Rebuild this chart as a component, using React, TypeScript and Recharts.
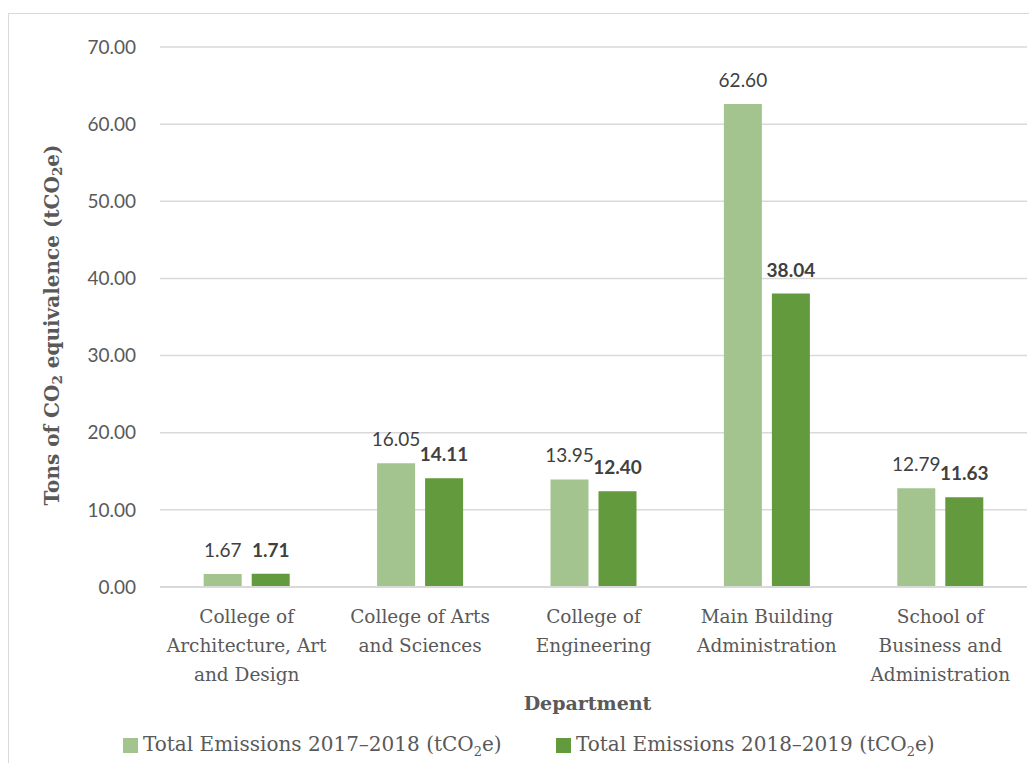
import React from "react";
import { BarChart, Bar, XAxis, YAxis, CartesianGrid, LabelList, Legend } from "recharts";

const departments = [
  "College of\nArchitecture, Art\nand Design",
  "College of Arts\nand Sciences",
  "College of\nEngineering",
  "Main Building\nAdministration",
  "School of\nBusiness and\nAdministration",
];
const emissions2017_2018 = [1.67, 16.05, 13.95, 62.6, 12.79];
const emissions2018_2019 = [1.71, 14.11, 12.4, 38.04, 11.63];
const yTicks = [0, 10, 20, 30, 40, 50, 60, 70];

const data = departments.map((d, i) => ({
  name: d,
  a: emissions2017_2018[i],
  b: emissions2018_2019[i],
}));

const SERIF = "'DejaVu Serif', serif";
const SANS = "Lato, 'Open Sans', sans-serif";
const LIGHT = "#A3C48F";
const DARK = "#629A3D";
const TEXT = "#595959";

const XTick = (props: any) => {
  const { x, y, payload } = props;
  const lines = String(payload.value).split("\n");
  return (
    <text x={x} y={y} textAnchor="middle" fontFamily={SERIF} fontSize={18.5} fill={TEXT}>
      {lines.map((l, i) => (
        <tspan key={i} x={x} dy={i === 0 ? 28 : 29}>
          {l}
        </tspan>
      ))}
    </text>
  );
};

const YLabel = (props: any) => {
  const vb = props.viewBox || { x: 0, y: 47, width: 0, height: 540 };
  const cx = 52;
  const cy = vb.y + vb.height / 2 + 8;
  return (
    <text
      x={cx}
      y={cy}
      transform={`rotate(-90, ${cx}, ${cy})`}
      textAnchor="middle"
      dominantBaseline="central"
      fontFamily={SERIF}
      fontWeight="bold"
      fontSize={20}
      fill={TEXT}
    >
      Tons of CO<tspan dy={5} fontSize={13.5}>2</tspan>
      <tspan dy={-5}> equivalence (tCO</tspan>
      <tspan dy={5} fontSize={13.5}>2</tspan>
      <tspan dy={-5}>e)</tspan>
    </text>
  );
};

const XLabel = (props: any) => {
  const vb = props.viewBox || { x: 160, y: 587, width: 867 };
  return (
    <text
      x={vb.x + vb.width / 2 - 6}
      y={710}
      textAnchor="middle"
      fontFamily={SERIF}
      fontWeight="bold"
      fontSize={19}
      fill={TEXT}
    >
      Department
    </text>
  );
};

const makeValueLabel = (bold: boolean) => (p: any) => {
  const { x, y, width, value } = p;
  return (
    <text
      x={Number(x) + Number(width) / 2}
      y={Number(y) - 17}
      textAnchor="middle"
      fontFamily={SANS}
      fontWeight={bold ? "bold" : "normal"}
      fontSize={19}
      fill="#404040"
    >
      {Number(value).toFixed(2)}
    </text>
  );
};

const legendItems = [
  { label: "Total Emissions 2017–2018 (tCO", color: LIGHT, left: 123 },
  { label: "Total Emissions 2018–2019 (tCO", color: DARK, left: 556 },
];

const LegendContent = () => (
  <div style={{ position: "relative", width: 1029, height: 36 }}>
    {legendItems.map((it, i) => (
      <div
        key={i}
        style={{
          position: "absolute",
          left: it.left,
          top: 0,
          height: 36,
          display: "flex",
          alignItems: "center",
          fontFamily: SERIF,
          fontSize: 20,
          color: TEXT,
          whiteSpace: "nowrap",
        }}
      >
        <span style={{ display: "inline-block", width: 15, height: 15, background: it.color, marginRight: 5 }} />
        <span>
          {it.label}
          <sub style={{ fontSize: 13 }}>2</sub>e)
        </span>
      </div>
    ))}
  </div>
);

export default function App() {
  return (
    <div style={{ position: "absolute", left: 0, top: 0, width: 1029, height: 763, background: "#fff", overflow: "hidden" }}>
      <div
        style={{
          position: "absolute",
          left: 8,
          top: 13,
          width: 1040,
          height: 770,
          border: "1.5px solid #D9D9D9",
          boxSizing: "border-box",
        }}
      />
      <div style={{ position: "absolute", left: 0, top: 0 }}>
        <BarChart
          width={1029}
          height={763}
          data={data}
          margin={{ top: 47, right: 2, bottom: 0, left: 10 }}
          barCategoryGap="25.2%"
          barGap={10}
        >
          <CartesianGrid vertical={false} stroke="#D9D9D9" strokeWidth={1.5} />
          <XAxis
            dataKey="name"
            height={140}
            tick={<XTick />}
            tickLine={false}
            axisLine={{ stroke: "#D9D9D9", strokeWidth: 2 }}
            interval={0}
            label={<XLabel />}
          />
          <YAxis
            width={150}
            domain={[0, 70]}
            ticks={yTicks}
            tickFormatter={(v: number) => v.toFixed(2)}
            tick={{ fontFamily: SANS, fontSize: 19, fill: TEXT }}
            tickLine={false}
            axisLine={false}
            tickSize={0}
            tickMargin={24}
            label={<YLabel />}
          />
          <Legend verticalAlign="bottom" align="left" wrapperStyle={{ left: 0, width: 1029, height: 36 }} content={<LegendContent />} />
          <Bar dataKey="a" fill={LIGHT} isAnimationActive={false}>
            <LabelList dataKey="a" content={makeValueLabel(false)} />
          </Bar>
          <Bar dataKey="b" fill={DARK} isAnimationActive={false}>
            <LabelList dataKey="b" content={makeValueLabel(true)} />
          </Bar>
        </BarChart>
      </div>
    </div>
  );
}
